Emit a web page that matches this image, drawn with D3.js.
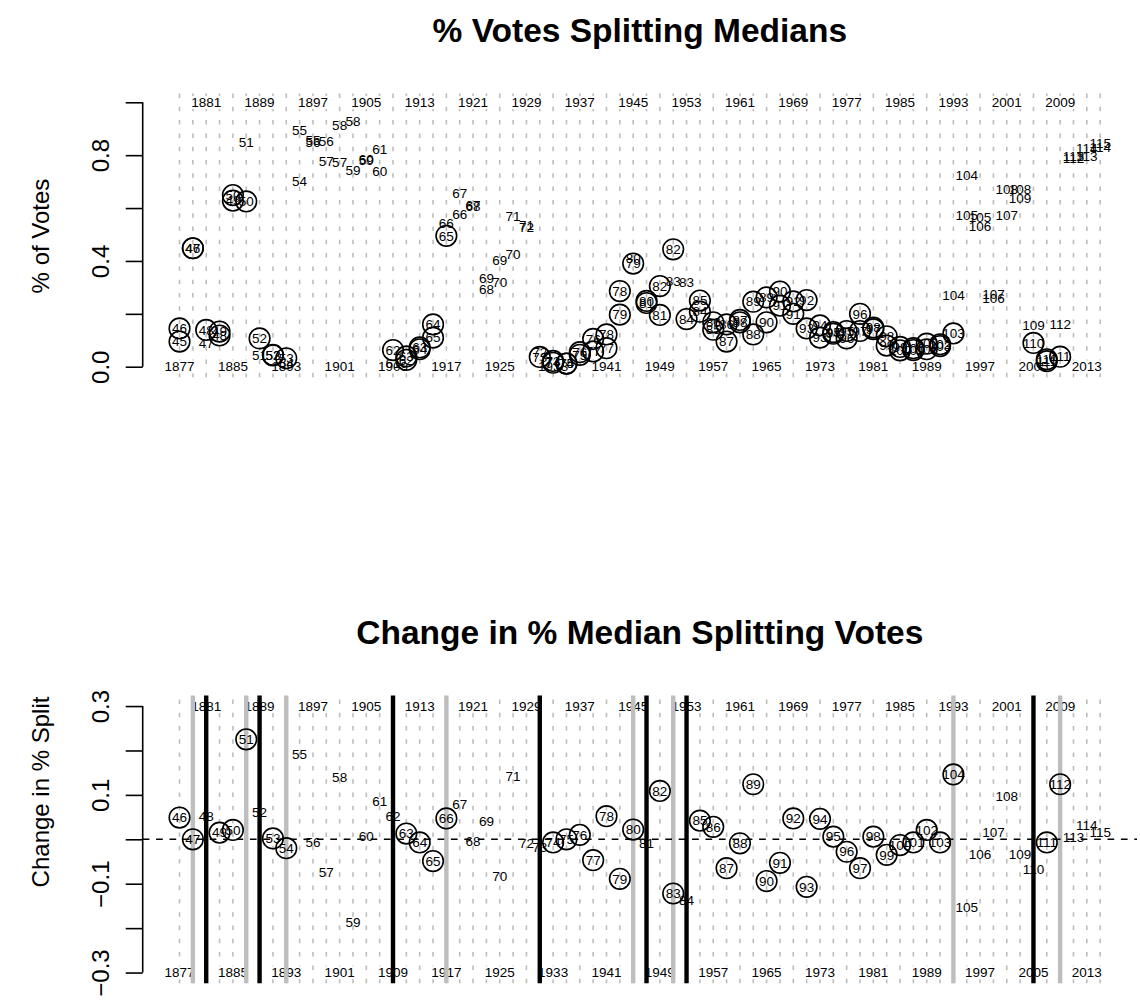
<!DOCTYPE html>
<html>
<head>
<script src="https://d3js.org/d3.v7.min.js"></script>
<style>
  html, body { margin: 0; padding: 0; background: #fff; }
  svg { display: block; font-family: "Liberation Sans", Arial, Helvetica, sans-serif; }
</style>
</head>
<body>
<div id="chart"></div>
<script>
// each x position is the first congress of an adjacent pair (c, c+1)
var congress = [45,46,47,48,49,50,51,52,53,54,55,56,57,58,59,60,61,62,63,64,65,66,67,68,69,70,
  71,72,73,74,75,76,77,78,79,80,81,82,83,84,85,86,87,88,89,90,91,92,93,94,95,96,97,98,99,100,
  101,102,103,104,105,106,107,108,109,110,111,112,113,114];

// share of votes splitting the medians, point labelled c
var firstShare = [0.095,0.448,0.087,0.118,0.628,0.625,0.044,0.043,0.032,0.703,0.855,0.851,0.775,0.929,
  0.779,0.738,0.012,0.026,0.073,0.160,0.495,0.576,0.610,0.294,0.404,0.426,0.536,0.055,0.022,0.012,
  0.045,0.105,0.070,0.286,0.390,0.249,0.196,0.444,0.318,0.208,0.140,0.160,0.177,0.122,0.262,0.284,
  0.200,0.252,0.110,0.125,0.135,0.200,0.142,0.115,0.075,0.070,0.066,0.085,0.126,0.725,0.564,0.259,
  0.574,0.671,0.158,0.028,0.038,0.790,0.795,0.830];
// point labelled c+1
var secondShare = [0.145,0.448,0.139,0.133,0.649,0.850,0.107,0.045,0.012,0.893,0.848,0.776,0.914,0.742,
  0.785,0.823,0.063,0.039,0.066,0.110,0.542,0.656,0.605,0.335,0.320,0.569,0.528,0.037,0.015,0.012,
  0.055,0.058,0.122,0.197,0.412,0.241,0.305,0.322,0.180,0.250,0.168,0.095,0.168,0.246,0.168,0.231,
  0.247,0.145,0.156,0.131,0.107,0.135,0.148,0.080,0.062,0.063,0.087,0.078,0.272,0.571,0.531,0.274,
  0.672,0.638,0.090,0.021,0.162,0.795,0.827,0.846];
// 1 = drawn with a ring, 0 = plain number
var firstRing = [1,1,0,1,1,1,0,1,1,0,0,0,0,0,0,0,0,1,1,1,1,0,0,0,0,0,0,0,1,1,
  1,1,1,1,1,1,1,1,0,1,1,1,1,1,1,1,1,1,1,1,1,1,1,1,1,1,1,1,1,0,0,0,0,0,0,1,1,0,0,0];
var secondRing = [1,1,1,1,1,0,1,1,0,0,0,0,0,0,0,0,1,1,1,1,0,0,0,0,0,0,0,1,1,1,
  1,1,1,1,0,1,1,0,1,1,1,1,1,1,1,1,1,1,1,1,1,1,1,1,1,1,1,1,0,0,0,0,0,0,1,1,0,0,0,0];

// change from congress c to c+1 (labelled c+1)
var changeShare = [0.049,0.000,0.052,0.015,0.021,0.225,0.060,0.002,-0.020,0.192,-0.007,-0.075,0.139,
  -0.187,0.006,0.085,0.051,0.013,-0.007,-0.049,0.047,0.080,-0.005,0.041,-0.084,0.143,-0.008,-0.018,
  -0.007,0.000,0.010,-0.047,0.052,-0.089,0.022,-0.008,0.109,-0.122,-0.138,0.042,0.028,-0.065,-0.009,
  0.124,-0.094,-0.053,0.047,-0.107,0.046,0.006,-0.028,-0.065,0.006,-0.035,-0.013,-0.007,0.021,-0.007,
  0.146,-0.154,-0.033,0.015,0.098,-0.033,-0.068,-0.007,0.124,0.005,0.032,0.016];
var changeRing = [1,1,0,1,1,1,0,1,1,0,0,0,0,0,0,0,0,1,1,1,1,0,0,0,0,0,0,0,1,1,
  1,1,1,1,1,0,1,1,0,1,1,1,1,1,1,1,1,1,1,1,1,1,1,1,1,1,1,1,1,0,0,0,0,0,0,1,1,0,0,0];

var yearsLow = [1877,1885,1893,1901,1909,1917,1925,1933,1941,1949,1957,1965,1973,1981,1989,1997,2005,2013];
var yearsHigh = [1881,1889,1897,1905,1913,1921,1929,1937,1945,1953,1961,1969,1977,1985,1993,2001,2009];

var blackCongress = [47,51,61,72,80,83,109];
var grayCongress = [46,50,53,65,79,82,103,111];

var topTicks = [0,0.2,0.4,0.6,0.8,1.0];
var topTickText = ["0.0","","0.4","","0.8",""];
var lowTicks = [-0.3,-0.2,-0.1,0,0.1,0.2,0.3];
var lowTickText = ["\u22120.3","","\u22120.1","","0.1","","0.3"];

var W = 1140, H = 1000;
var svg = d3.select("#chart").append("svg").attr("width", W).attr("height", H);
svg.append("rect").attr("width", W).attr("height", H).attr("fill", "#fff");

var x = d3.scaleLinear().domain([42.24, 116.76]).range([142.7, 1137]);
function yearToCongress(yr) { return 45 + (yr - 1877) / 2; }

function panel(cfg) {
    var y = d3.scaleLinear().domain(cfg.domain).range(cfg.range);
    var g = svg.append("g");
    var top = cfg.range[1], bottom = cfg.range[0];

    // title
    svg.append("text")
        .attr("x", (x.range()[0] + x.range()[1]) / 2)
        .attr("y", cfg.titleY)
        .attr("text-anchor", "middle")
        .attr("font-weight", "bold")
        .attr("font-size", 33.5)
        .text(cfg.title);

    // y axis
    var ax = g.append("g").attr("transform", "translate(" + x.range()[0] + ",0)")
        .call(d3.axisLeft(y).tickValues(cfg.ticks).tickSize(17).tickSizeOuter(0)
            .tickFormat(function(d, i) { return cfg.tickText[i]; }));
    ax.select(".domain").attr("stroke", "#000").attr("stroke-width", 1.6)
        .attr("d", "M0," + y(cfg.ticks[0]) + "V" + y(cfg.ticks[cfg.ticks.length - 1]));
    ax.selectAll(".tick line").attr("stroke", "#000").attr("stroke-width", 1.6);
    ax.selectAll(".tick text")
        .attr("x", 0).attr("y", -34).attr("dy", 0)
        .attr("transform", "rotate(-90)")
        .attr("text-anchor", "middle")
        .attr("font-size", 24)
        .attr("font-family", "Liberation Sans, Arial, sans-serif")
        .attr("fill", "#000");

    svg.append("text")
        .attr("transform", "translate(49," + cfg.ylabY + ") rotate(-90)")
        .attr("text-anchor", "middle")
        .attr("font-size", 24)
        .text(cfg.ylab);

    // dashed congress grid
    g.selectAll(".grid").data(congress).enter().append("line")
        .attr("x1", function(d) { return x(d); })
        .attr("x2", function(d) { return x(d); })
        .attr("y1", bottom).attr("y2", top)
        .attr("stroke", "#bdbdbd").attr("stroke-width", 1.6)
        .attr("stroke-dasharray", "4.5,8.8");

    // year labels on white boxes
    function years(list, val) {
        var lab = g.append("g").selectAll("g").data(list).enter().append("g")
            .attr("transform", function(d) { return "translate(" + x(yearToCongress(d)) + "," + y(val) + ")"; });
        var t = lab.append("text")
            .attr("text-anchor", "middle").attr("dy", "0.35em")
            .attr("font-size", 13.5).attr("fill", "#000")
            .text(function(d) { return d; });
        t.each(function() {
            var b = this.getBBox();
            d3.select(this.parentNode).insert("rect", "text")
                .attr("x", b.x - 1).attr("y", b.y + 1).attr("width", b.width + 2).attr("height", b.height - 2)
                .attr("fill", "#fff");
        });
    }
    years(yearsLow, cfg.domain[0] + (cfg.domain[1] - cfg.domain[0]) * 0.04 / 1.08);
    years(yearsHigh, cfg.domain[1] - (cfg.domain[1] - cfg.domain[0]) * 0.04 / 1.08);

    if (cfg.extra) cfg.extra(g, y, top, bottom);

    // points
    var pts = g.append("g").selectAll("g").data(cfg.points).enter().append("g")
        .attr("transform", function(d) { return "translate(" + x(d.c) + "," + y(d.v) + ")"; });
    pts.filter(function(d) { return d.ring; }).append("circle")
        .attr("r", 10.3).attr("fill", "none").attr("stroke", "#000").attr("stroke-width", 1.6);
    pts.append("text")
        .attr("text-anchor", "middle").attr("dy", "0.35em")
        .attr("font-size", 13.5).attr("fill", "#000")
        .text(function(d) { return d.label; });
}

var topPoints = [];
congress.forEach(function(c, i) {
    topPoints.push({c: c, v: firstShare[i], label: c, ring: firstRing[i]});
    topPoints.push({c: c, v: secondShare[i], label: c + 1, ring: secondRing[i]});
});

panel({
    title: "% Votes Splitting Medians", titleY: 42,
    domain: [-0.04, 1.04], range: [377.3, 91.7], ylabY: 236,
    ticks: topTicks, tickText: topTickText, ylab: "% of Votes",
    points: topPoints
});

var lowPoints = congress.map(function(c, i) {
    return {c: c, v: changeShare[i], label: c + 1, ring: changeRing[i]};
});

panel({
    title: "Change in % Median Splitting Votes", titleY: 644,
    domain: [-0.324, 0.324], range: [983.2, 695.4], ylabY: 792,
    ticks: lowTicks, tickText: lowTickText, ylab: "Change in % Split",
    points: lowPoints,
    extra: function(g, y, top, bottom) {
        g.selectAll(".gl").data(grayCongress).enter().append("line")
            .attr("x1", function(d) { return x(d); }).attr("x2", function(d) { return x(d); })
            .attr("y1", bottom).attr("y2", top)
            .attr("stroke", "#bebebe").attr("stroke-width", 4.4);
        g.selectAll(".bl").data(blackCongress).enter().append("line")
            .attr("x1", function(d) { return x(d); }).attr("x2", function(d) { return x(d); })
            .attr("y1", bottom).attr("y2", top)
            .attr("stroke", "#000").attr("stroke-width", 4.4);
        g.append("line")
            .attr("x1", x.range()[0]).attr("x2", x.range()[1])
            .attr("y1", y(0)).attr("y2", y(0))
            .attr("stroke", "#000").attr("stroke-width", 1.6)
            .attr("stroke-dasharray", "6.7,6.7");
    }
});
</script>
</body>
</html>
